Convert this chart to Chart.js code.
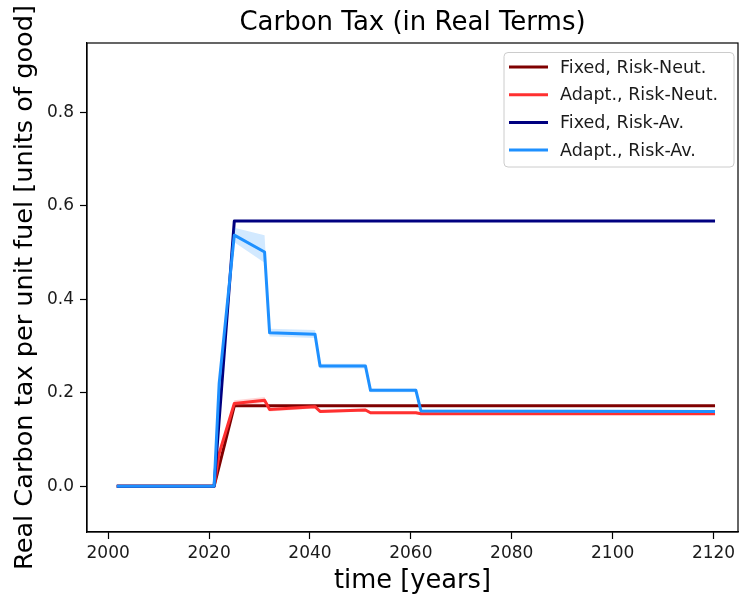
<!DOCTYPE html>
<html>
<head>
<meta charset="utf-8">
<title>Carbon Tax (in Real Terms)</title>
<script src="https://cdn.jsdelivr.net/npm/chart.js@4.4.1/dist/chart.umd.min.js"></script>
<style>
  html, body { margin: 0; padding: 0; background: #ffffff; }
  #wrap { width: 740px; height: 598px; }
</style>
</head>
<body>
<div id="wrap"><canvas id="c" width="740" height="598"></canvas></div>
<script>
// Years at which each policy path is sampled
const fixedYears = [2002, 2021, 2025, 2120];
const adaptYears = [2002, 2021, 2022, 2025, 2031, 2032, 2041, 2042, 2051, 2052, 2061, 2062, 2120];

// Fixed policies
const fixedRiskNeutral = [0, 0, 0.172, 0.172];
const fixedRiskAverse  = [0, 0, 0.567, 0.567];

// Adaptive policies (mean path)
const adaptRiskNeutral = [0, 0, 0.070, 0.177, 0.184, 0.164, 0.170, 0.160, 0.163, 0.157, 0.157, 0.155, 0.155];
const adaptRiskAverse  = [0, 0, 0.220, 0.537, 0.501, 0.328, 0.325, 0.257, 0.257, 0.205, 0.205, 0.161, 0.160];

// Spread of the adaptive paths
const adaptRiskNeutralHigh = [0, 0, 0.075, 0.184, 0.191, 0.168, 0.174, 0.164, 0.166, 0.160, 0.160, 0.157, 0.157];
const adaptRiskNeutralLow  = [0, 0, 0.065, 0.171, 0.178, 0.160, 0.166, 0.157, 0.160, 0.154, 0.154, 0.153, 0.153];
const adaptRiskAverseHigh  = [0, 0, 0.230, 0.553, 0.537, 0.337, 0.334, 0.262, 0.262, 0.209, 0.209, 0.164, 0.163];
const adaptRiskAverseLow   = [0, 0, 0.210, 0.522, 0.478, 0.320, 0.317, 0.252, 0.252, 0.201, 0.201, 0.158, 0.157];

// Axis ticks
const xTicks = [2000, 2020, 2040, 2060, 2080, 2100, 2120];
const yTicks = [0.0, 0.2, 0.4, 0.6, 0.8];

const seriesLabels = ['Fixed, Risk-Neut.', 'Adapt., Risk-Neut.', 'Fixed, Risk-Av.', 'Adapt., Risk-Av.'];
const seriesColors = ['#7f0000', '#ff3030', '#000080', '#1e90ff'];

const pts = (xs, ys) => xs.map((x, i) => ({ x: x, y: ys[i] }));

const lineBase = {
  borderWidth: 3,
  pointRadius: 0,
  pointHoverRadius: 0,
  tension: 0,
  fill: false,
  borderJoinStyle: 'round',
  borderCapStyle: 'square'
};
const bandBase = {
  borderWidth: 0,
  pointRadius: 0,
  pointHoverRadius: 0,
  tension: 0,
  borderColor: 'rgba(0,0,0,0)'
};

const datasets = [
  Object.assign({}, lineBase, { label: seriesLabels[0], data: pts(fixedYears, fixedRiskNeutral), borderColor: seriesColors[0], order: 6 }),
  Object.assign({}, lineBase, { label: seriesLabels[1], data: pts(adaptYears, adaptRiskNeutral), borderColor: seriesColors[1], order: 4 }),
  Object.assign({}, lineBase, { label: seriesLabels[2], data: pts(fixedYears, fixedRiskAverse), borderColor: seriesColors[2], order: 3 }),
  Object.assign({}, lineBase, { label: seriesLabels[3], data: pts(adaptYears, adaptRiskAverse), borderColor: seriesColors[3], order: 1 }),
  Object.assign({}, bandBase, { label: 'band-rn-hi', data: pts(adaptYears, adaptRiskNeutralHigh), fill: 5, backgroundColor: 'rgba(255,48,48,0.2)', order: 5 }),
  Object.assign({}, bandBase, { label: 'band-rn-lo', data: pts(adaptYears, adaptRiskNeutralLow), fill: false, order: 5 }),
  Object.assign({}, bandBase, { label: 'band-ra-hi', data: pts(adaptYears, adaptRiskAverseHigh), fill: 7, backgroundColor: 'rgba(30,144,255,0.2)', order: 2 }),
  Object.assign({}, bandBase, { label: 'band-ra-lo', data: pts(adaptYears, adaptRiskAverseLow), fill: false, order: 2 })
];

// Center the title over the plotting area instead of the whole canvas
const titleOverPlot = {
  id: 'titleOverPlot',
  afterLayout(chart) {
    const t = chart.titleBlock;
    if (t) {
      t.left = chart.chartArea.left;
      t.right = chart.chartArea.right;
      t.width = t.right - t.left;
    }
  }
};

// Box around the plotting area (top and right sides included)
const frame = {
  id: 'frame',
  afterDatasetsDraw(chart) {
    const { ctx, chartArea: a } = chart;
    ctx.save();
    ctx.strokeStyle = '#000000';
    ctx.lineWidth = 1.2;
    ctx.strokeRect(a.left, a.top, a.right - a.left, a.bottom - a.top);
    ctx.restore();
  }
};

// Legend box in the upper-right corner of the plot
const cornerLegend = {
  id: 'cornerLegend',
  afterDatasetsDraw(chart) {
    const { ctx } = chart;
    const box = { x: 504, y: 52.5, w: 230, h: 114.5, r: 4 };
    ctx.save();
    ctx.beginPath();
    ctx.roundRect(box.x, box.y, box.w, box.h, box.r);
    ctx.fillStyle = 'rgba(255,255,255,0.8)';
    ctx.fill();
    ctx.strokeStyle = '#cccccc';
    ctx.lineWidth = 1;
    ctx.stroke();
    ctx.font = '17.5px "DejaVu Sans"';
    ctx.textBaseline = 'middle';
    ctx.textAlign = 'left';
    for (let i = 0; i < 4; i++) {
      const ds = chart.data.datasets[i];
      const y = 67 + i * 27.7;
      ctx.beginPath();
      ctx.moveTo(509, y);
      ctx.lineTo(548, y);
      ctx.strokeStyle = ds.borderColor;
      ctx.lineWidth = 3;
      ctx.lineCap = 'butt';
      ctx.stroke();
      ctx.fillStyle = '#1a1a1a';
      ctx.fillText(ds.label, 560, y + 1);
    }
    ctx.restore();
  }
};

new Chart(document.getElementById('c'), {
  type: 'line',
  data: { datasets: datasets },
  options: {
    responsive: false,
    animation: false,
    devicePixelRatio: 1,
    layout: { padding: { left: 0, right: 2, top: 0, bottom: 0 } },
    plugins: {
      legend: { display: false },
      tooltip: { enabled: false },
      filler: { propagate: false },
      title: {
        display: true,
        text: 'Carbon Tax (in Real Terms)',
        color: '#000000',
        font: { family: 'DejaVu Sans', size: 26, weight: 'normal', lineHeight: 1.2 },
        padding: { top: 7.5, bottom: 4.3 }
      }
    },
    scales: {
      x: {
        type: 'linear',
        min: 1995.8,
        max: 2124.85,
        afterBuildTicks(scale) { scale.ticks = xTicks.map(v => ({ value: v })); },
        afterFit(scale) { scale.height = 66; },
        grid: { drawOnChartArea: false, drawTicks: true, tickLength: 7, tickColor: '#000000', tickWidth: 1.2 },
        border: { display: true, color: '#000000', width: 1.2 },
        ticks: {
          color: '#1a1a1a',
          padding: 4,
          maxRotation: 0,
          font: { family: 'DejaVu Sans', size: 17 },
          callback: v => String(v)
        },
        title: {
          display: true,
          text: 'time [years]',
          color: '#000000',
          font: { family: 'DejaVu Sans', size: 25.7, lineHeight: 1.2 },
          padding: { top: 0, bottom: 1.5 }
        }
      },
      y: {
        type: 'linear',
        min: -0.098,
        max: 0.948,
        afterBuildTicks(scale) { scale.ticks = yTicks.map(v => ({ value: v })); },
        afterFit(scale) { scale.width = 87; },
        grid: { drawOnChartArea: false, drawTicks: true, tickLength: 7, tickColor: '#000000', tickWidth: 1.2 },
        border: { display: true, color: '#000000', width: 1.2 },
        ticks: {
          color: '#1a1a1a',
          padding: 6,
          font: { family: 'DejaVu Sans', size: 17 },
          callback: v => Number(v).toFixed(1)
        },
        title: {
          display: true,
          text: 'Real Carbon tax per unit fuel [units of good]',
          color: '#000000',
          font: { family: 'DejaVu Sans', size: 25.6, lineHeight: 1.2 },
          padding: { top: 9.5, bottom: 0 }
        }
      }
    }
  },
  plugins: [titleOverPlot, frame, cornerLegend]
});
</script>
</body>
</html>
